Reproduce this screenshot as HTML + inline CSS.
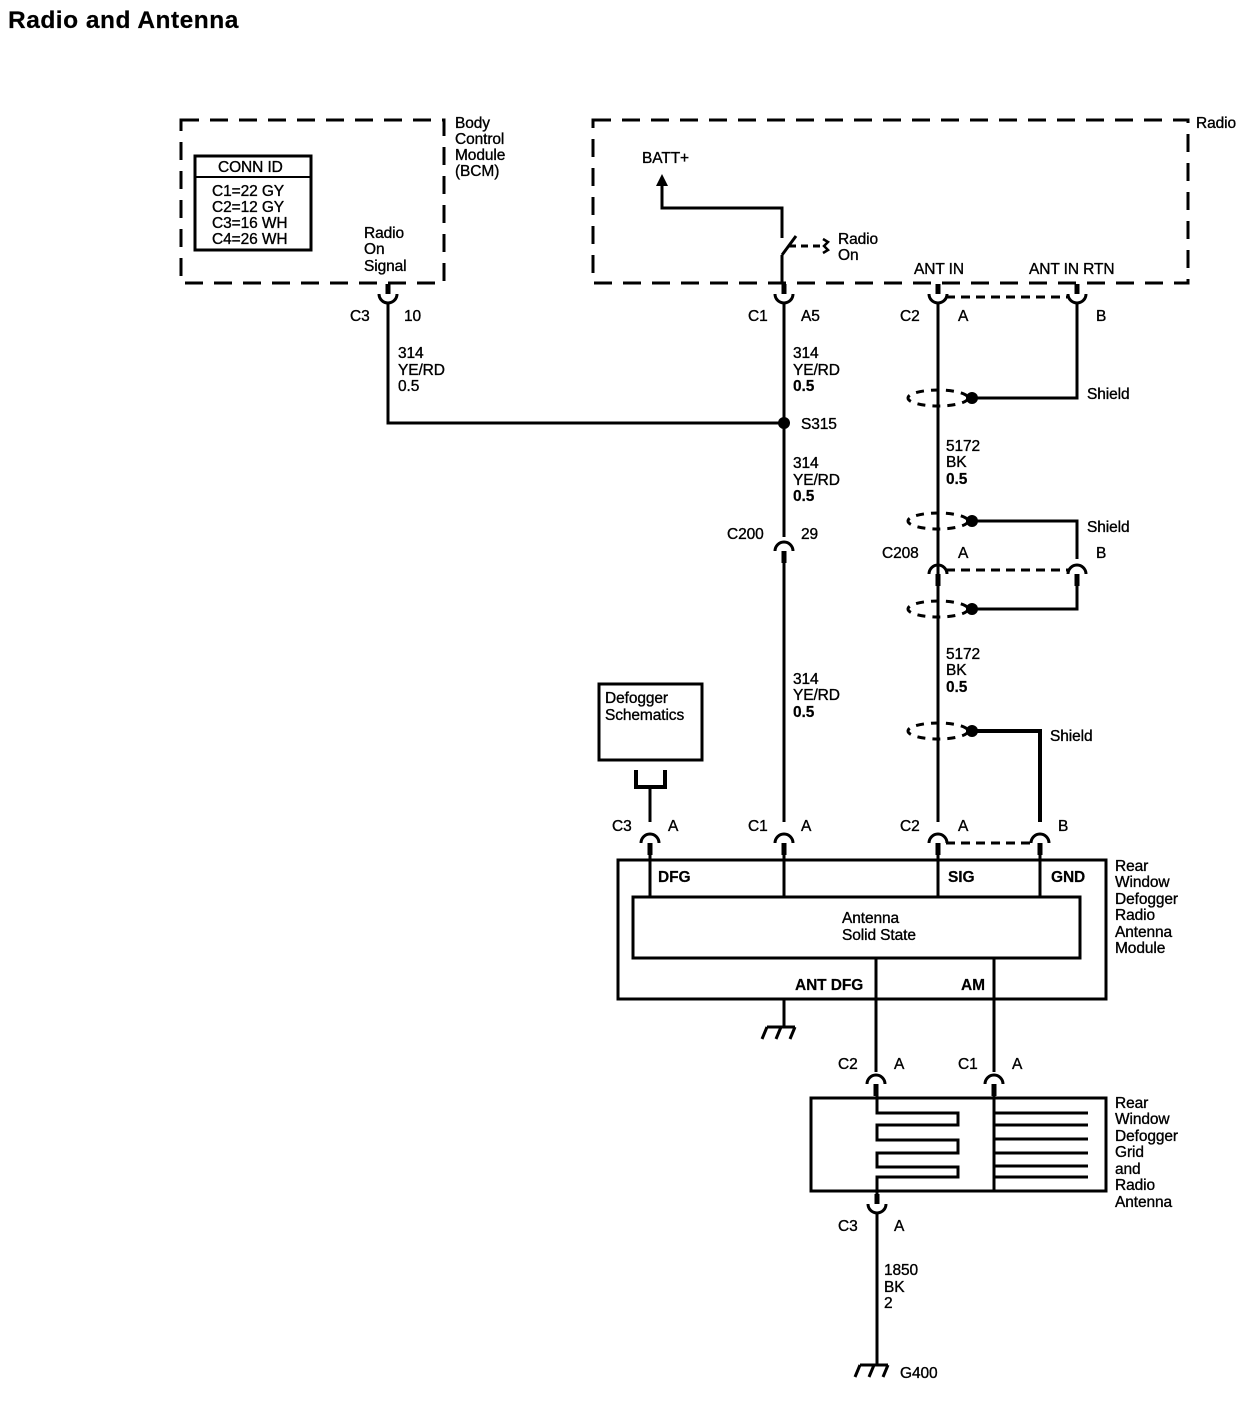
<!DOCTYPE html>
<html><head><meta charset="utf-8"><style>
html,body{margin:0;padding:0;background:#fff;}
svg{display:block}
text{font-family:"Liberation Sans",Arial,sans-serif;font-size:15.5px;fill:#000;stroke:#000;stroke-width:0.35px;letter-spacing:-0.1px}
.b{font-weight:bold;stroke-width:0.2px}
</style></head><body>
<svg width="1250" height="1408" viewBox="0 0 1250 1408" xmlns="http://www.w3.org/2000/svg">
<defs>
<g id="cup"><path d="M-9,-6 A9,9 0 0 0 9,-6" fill="none" stroke="#000" stroke-width="3"/><rect x="-2.5" y="-16" width="5" height="10" fill="#000"/></g>
<g id="cap"><path d="M-9,6 A9,9 0 0 1 9,6" fill="none" stroke="#000" stroke-width="3"/><rect x="-2.5" y="6" width="5" height="12" fill="#000"/></g>
<g id="gnd"><line x1="-14" y1="0" x2="14" y2="0" stroke="#000" stroke-width="3"/><line x1="-14" y1="0" x2="-19" y2="12" stroke="#000" stroke-width="3"/><line x1="0" y1="0" x2="-5" y2="12" stroke="#000" stroke-width="3"/><line x1="14" y1="0" x2="9" y2="12" stroke="#000" stroke-width="3"/></g>
<g id="shield"><ellipse cx="0" cy="0" rx="30" ry="8" fill="none" stroke="#000" stroke-width="3" stroke-dasharray="8,7"/><circle cx="34" cy="0" r="6" fill="#000"/></g>
</defs>
<text x="8" y="28" class="b" style="font-size:24.5px;letter-spacing:0.5px">Radio and Antenna</text>

<!-- BCM -->
<rect x="181" y="120" width="263" height="163" fill="none" stroke="#000" stroke-width="3" stroke-dasharray="18,11"/>
<text x="455" y="128">Body</text><text x="455" y="144">Control</text><text x="455" y="160">Module</text><text x="455" y="176">(BCM)</text>
<rect x="195" y="156" width="116" height="94" fill="none" stroke="#000" stroke-width="3"/>
<line x1="195" y1="177" x2="311" y2="177" stroke="#000" stroke-width="2"/>
<text x="218" y="172">CONN ID</text>
<text x="212" y="196">C1=22 GY</text><text x="212" y="212">C2=12 GY</text><text x="212" y="228">C3=16 WH</text><text x="212" y="244">C4=26 WH</text>
<text x="364" y="238">Radio</text><text x="364" y="254">On</text><text x="364" y="271">Signal</text>

<!-- Radio -->
<rect x="593" y="120" width="595" height="163" fill="none" stroke="#000" stroke-width="3" stroke-dasharray="18,11"/>
<text x="1196" y="128">Radio</text>
<text x="642" y="163">BATT+</text>
<polygon points="662,174 656,186 668,186" fill="#000"/>
<polyline points="662,186 662,208 782,208 782,238" fill="none" stroke="#000" stroke-width="3"/>
<line x1="782" y1="255" x2="796" y2="236" stroke="#000" stroke-width="3"/>
<line x1="789" y1="246" x2="822" y2="246" stroke="#000" stroke-width="3" stroke-dasharray="7,5"/>
<path d="M823,239 l5,3 -4,4 4,4 -5,3" fill="none" stroke="#000" stroke-width="2.5"/>
<text x="838" y="244">Radio</text><text x="838" y="260">On</text>
<text x="914" y="274">ANT IN</text><text x="1029" y="274">ANT IN RTN</text>

<!-- Connectors top -->
<use href="#cup" x="388" y="300"/><text x="350" y="321">C3</text><text x="404" y="321">10</text>
<use href="#cup" x="784" y="300"/><text x="748" y="321">C1</text><text x="801" y="321">A5</text>
<use href="#cup" x="938" y="300"/><text x="900" y="321">C2</text><text x="958" y="321">A</text>
<use href="#cup" x="1077" y="300"/><text x="1096" y="321">B</text>
<line x1="946" y1="297" x2="1068" y2="297" stroke="#000" stroke-width="3" stroke-dasharray="9,6"/>

<!-- wires -->
<g stroke="#000" stroke-width="3" fill="none">
<line x1="782" y1="255" x2="782" y2="284"/>
<polyline points="388,303 388,423 784,423"/>
<line x1="784" y1="303" x2="784" y2="537"/>
<line x1="784" y1="563" x2="784" y2="822"/>
<line x1="938" y1="303" x2="938" y2="822"/>
<polyline points="972,398 1077,398 1077,303"/>
<polyline points="972,521 1077,521 1077,559"/>
<polyline points="1077,580 1077,609 972,609"/>
<polyline points="972,731 1040,731 1040,822" stroke-width="4"/>
<line x1="946" y1="570" x2="1068" y2="570" stroke-dasharray="9,6"/>
<line x1="946" y1="843" x2="1032" y2="843" stroke-dasharray="9,6"/>
<line x1="650" y1="787" x2="650" y2="822"/>
<polyline points="636,770 636,787 665,787 665,770" stroke-width="4"/>
</g>
<circle cx="784" cy="423" r="6" fill="#000"/>
<text x="801" y="429">S315</text>
<use href="#shield" x="938" y="398"/><text x="1087" y="399">Shield</text>
<use href="#shield" x="938" y="521"/><text x="1087" y="532">Shield</text>
<use href="#shield" x="938" y="609"/>
<use href="#shield" x="938" y="731"/><text x="1050" y="741">Shield</text>

<text x="398" y="358">314</text><text x="398" y="375">YE/RD</text><text x="398" y="391">0.5</text>
<text x="793" y="358">314</text><text x="793" y="375">YE/RD</text><text x="793" y="391" class="b">0.5</text>
<text x="793" y="468">314</text><text x="793" y="485">YE/RD</text><text x="793" y="501" class="b">0.5</text>
<text x="793" y="684">314</text><text x="793" y="700">YE/RD</text><text x="793" y="717" class="b">0.5</text>
<text x="946" y="451">5172</text><text x="946" y="467">BK</text><text x="946" y="484" class="b">0.5</text>
<text x="946" y="659">5172</text><text x="946" y="675">BK</text><text x="946" y="692" class="b">0.5</text>

<use href="#cap" x="784" y="545"/><text x="727" y="539">C200</text><text x="801" y="539">29</text>
<use href="#cap" x="938" y="568"/><text x="882" y="558">C208</text><text x="958" y="558">A</text>
<use href="#cap" x="1077" y="568"/><text x="1096" y="558">B</text>

<!-- Defogger schematics -->
<rect x="599" y="684" width="103" height="76" fill="none" stroke="#000" stroke-width="3"/>
<text x="605" y="703">Defogger</text><text x="605" y="720">Schematics</text>

<use href="#cap" x="650" y="837"/><text x="612" y="831">C3</text><text x="668" y="831">A</text>
<use href="#cap" x="784" y="837"/><text x="748" y="831">C1</text><text x="801" y="831">A</text>
<use href="#cap" x="938" y="837"/><text x="900" y="831">C2</text><text x="958" y="831">A</text>
<use href="#cap" x="1040" y="837"/><text x="1058" y="831">B</text>

<!-- module -->
<rect x="618" y="860" width="488" height="139" fill="none" stroke="#000" stroke-width="3"/>
<rect x="633" y="897" width="447" height="61" fill="none" stroke="#000" stroke-width="3"/>
<g stroke="#000" stroke-width="3">
<line x1="650" y1="855" x2="650" y2="897"/><line x1="784" y1="855" x2="784" y2="897"/>
<line x1="938" y1="855" x2="938" y2="897"/><line x1="1040" y1="855" x2="1040" y2="897"/>
<line x1="876" y1="958" x2="876" y2="1072"/><line x1="994" y1="958" x2="994" y2="1072"/>
<line x1="784" y1="999" x2="784" y2="1027"/>
</g>
<text x="658" y="882" class="b">DFG</text><text x="948" y="882" class="b">SIG</text><text x="1051" y="882" class="b">GND</text>
<text x="842" y="923">Antenna</text><text x="842" y="940">Solid State</text>
<text x="795" y="990" class="b">ANT DFG</text><text x="961" y="990" class="b">AM</text>
<text x="1115" y="871">Rear</text><text x="1115" y="887">Window</text><text x="1115" y="904">Defogger</text><text x="1115" y="920">Radio</text><text x="1115" y="937">Antenna</text><text x="1115" y="953">Module</text>
<use href="#gnd" x="781" y="1027"/>

<use href="#cap" x="876" y="1078"/><text x="838" y="1069">C2</text><text x="894" y="1069">A</text>
<use href="#cap" x="994" y="1078"/><text x="958" y="1069">C1</text><text x="1012" y="1069">A</text>

<!-- grid -->
<rect x="811" y="1098" width="295" height="93" fill="none" stroke="#000" stroke-width="3"/>
<g stroke="#000" stroke-width="3" fill="none">
<polyline points="877,1096 877,1113 958,1113 958,1125 877,1125 877,1140 958,1140 958,1153 877,1153 877,1167 958,1167 958,1177 877,1177 877,1200"/>
<line x1="994" y1="1096" x2="994" y2="1191"/>
<line x1="994" y1="1113" x2="1088" y2="1113"/><line x1="994" y1="1125" x2="1088" y2="1125"/>
<line x1="994" y1="1139" x2="1088" y2="1139"/><line x1="994" y1="1153" x2="1088" y2="1153"/>
<line x1="994" y1="1166" x2="1088" y2="1166"/><line x1="994" y1="1177" x2="1088" y2="1177"/>
<line x1="877" y1="1212" x2="877" y2="1365"/>
</g>
<text x="1115" y="1108">Rear</text><text x="1115" y="1124">Window</text><text x="1115" y="1141">Defogger</text><text x="1115" y="1157">Grid</text><text x="1115" y="1174">and</text><text x="1115" y="1190">Radio</text><text x="1115" y="1207">Antenna</text>
<use href="#cup" x="877" y="1210"/><text x="838" y="1231">C3</text><text x="894" y="1231">A</text>
<text x="884" y="1275">1850</text><text x="884" y="1292">BK</text><text x="884" y="1308">2</text>
<use href="#gnd" x="874" y="1365"/><text x="900" y="1378">G400</text>
</svg>
</body></html>
